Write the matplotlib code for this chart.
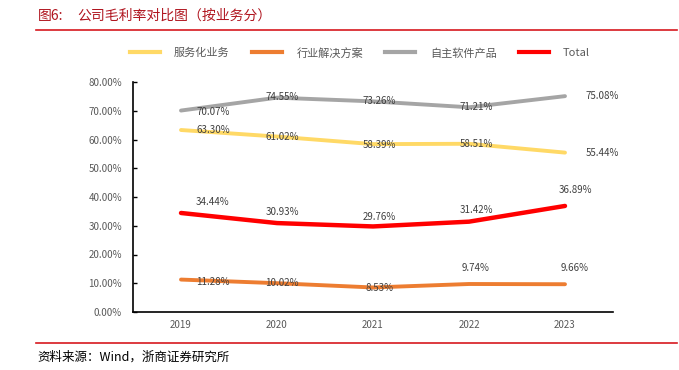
import numpy as np
import matplotlib.pyplot as plt
from matplotlib.lines import Line2D

plt.rcParams['font.family'] = ['Noto Sans CJK SC', 'DejaVu Sans']

years = ['2019', '2020', '2021', '2022', '2023']
service = [63.30, 61.02, 58.39, 58.51, 55.44]
solution = [11.28, 10.02, 8.53, 9.74, 9.66]
software = [70.07, 74.55, 73.26, 71.21, 75.08]
total = [34.44, 30.93, 29.76, 31.42, 36.89]

names = ['服务化业务', '行业解决方案', '自主软件产品', 'Total']
colors = ['#FFD966', '#ED7D31', '#A5A5A5', '#FF0000']
series = [service, solution, software, total]
# label offsets in pixels (dx, dy) per series / point
offsets = [
    [(32, 0), (5, 0), (6, -1), (7, 0), (37, 0)],
    [(32, -2), (5, 0), (6, -1), (7, 16), (10, 16)],
    [(32, -1), (5, 1), (6, 0), (7, 0), (37, 0)],
    [(31, 11), (5, 11), (6, 9), (7, 12), (10, 16)],
]

fig = plt.figure(figsize=(6.79, 3.70), dpi=100)
ax = fig.add_axes([133/679, 58/370, 480/679, 230/370])

x = np.arange(len(years))
for vals, c, lab, offs in zip(series, colors, names, offsets):
    lw = 3.2 if lab == 'Total' else 2.8
    ax.plot(x, vals, color=c, lw=lw, solid_capstyle='round', label=lab)
    for xi, v, (dx, dy) in zip(x, vals, offs):
        ax.annotate('%.2f%%' % v, (xi, v), xytext=(dx, dy), textcoords='offset pixels',
                    ha='center', va='center', fontsize=7, color='#404040')

ax.set_xlim(-0.5, len(years) - 0.5)
ax.set_ylim(0, 80)
ax.set_yticks(np.arange(0, 81, 10))
ax.set_yticklabels(['%.2f%%' % t for t in np.arange(0, 81, 10)])
ax.set_xticks(x)
ax.set_xticklabels(years)
ax.tick_params(axis='y', direction='in', length=3, width=1, labelsize=7, labelcolor='#595959', pad=8)
ax.tick_params(axis='x', length=0, labelsize=7, labelcolor='#595959', pad=6)
for s in ['top', 'right']:
    ax.spines[s].set_visible(False)
for s in ['left', 'bottom']:
    ax.spines[s].set_color('black')
    ax.spines[s].set_linewidth(1.2)

handles = [Line2D([], [], color=c, lw=3) for c in colors]
leg = fig.legend(handles, names, loc='center', bbox_to_anchor=(0.53, 0.857), ncol=4,
                 frameon=False, fontsize=8, handlelength=2.7, columnspacing=2.0, handletextpad=1.3)
for t in leg.get_texts():
    t.set_color('#595959')

fig.text(38/679, 1 - 16/370, '图6:', fontsize=10, color='#B0151F', ha='left', va='center')
fig.text(77/679, 1 - 16/370, '公司毛利率对比图（按业务分）', fontsize=10, color='#B0151F',
         ha='left', va='center')
fig.add_artist(Line2D([36/679, 677/679], [1 - 30/370, 1 - 30/370], color='#D7191F', lw=1.2))
fig.add_artist(Line2D([36/679, 677/679], [1 - 343/370, 1 - 343/370], color='#D7191F', lw=1.2))
fig.text(37/679, 1 - 357/370, '资料来源：Wind，浙商证券研究所', fontsize=9, color='black',
         ha='left', va='center')

fig.savefig('out.png', dpi=100)
